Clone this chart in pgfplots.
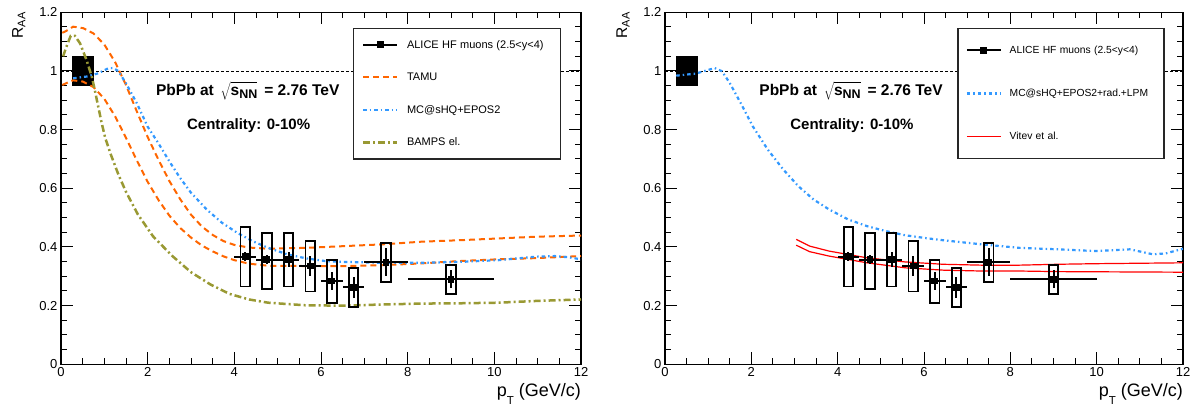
\documentclass[border=0pt]{standalone}
\usepackage{pgfplots}
\pgfplotsset{compat=1.18}
\usepackage{pgfplotstable}
\usepackage{fontspec}
\setmainfont{Liberation Sans}
\definecolor{tamu}{RGB}{255,102,0}
\definecolor{mcblue}{RGB}{51,153,255}
\definecolor{bamps}{RGB}{153,153,51}
\definecolor{vitev}{RGB}{255,0,0}

% ALICE HF muons: pT, RAA, bin half-width, stat error
\pgfplotstableread{
x y ex ey
4.25 0.367 0.25 0.015
4.75 0.356 0.25 0.015
5.25 0.357 0.25 0.025
5.75 0.335 0.25 0.035
6.25 0.284 0.25 0.030
6.75 0.262 0.25 0.035
7.5 0.348 0.5 0.047
9.0 0.290 1.0 0.030
}\alicedata

% systematic boxes (outlines), nan separates boxes
\pgfplotstableread{
x y
4.14 0.265
4.36 0.265
4.36 0.467
4.14 0.467
4.14 0.265
nan nan
4.64 0.257
4.86 0.257
4.86 0.447
4.64 0.447
4.64 0.257
nan nan
5.14 0.265
5.36 0.265
5.36 0.447
5.14 0.447
5.14 0.265
nan nan
5.64 0.248
5.86 0.248
5.86 0.420
5.64 0.420
5.64 0.248
nan nan
6.14 0.210
6.36 0.210
6.36 0.356
6.14 0.356
6.14 0.210
nan nan
6.64 0.194
6.86 0.194
6.86 0.329
6.64 0.329
6.64 0.194
nan nan
7.39 0.280
7.61 0.280
7.61 0.413
7.39 0.413
7.39 0.280
nan nan
8.89 0.240
9.11 0.240
9.11 0.339
8.89 0.339
8.89 0.240
}\systdata

% normalisation box
\pgfplotstableread{
x y
0.25 0.95
0.77 0.95
0.77 1.05
0.25 1.05
}\normbox

\pgfplotstableread{
x y
0.03 1.130
0.115 1.136
0.28 1.151
0.51 1.146
0.75 1.128
1.00 1.090
1.25 1.030
1.50 0.952
1.75 0.862
2.00 0.775
2.25 0.697
2.50 0.625
2.75 0.563
3.00 0.510
3.25 0.470
3.50 0.441
3.75 0.420
4.00 0.407
4.34 0.398
4.78 0.394
5.66 0.397
6.55 0.403
7.43 0.409
8.32 0.418
9.20 0.423
10.09 0.429
10.97 0.435
12.0 0.439
}\tamuup

\pgfplotstableread{
x y
0.03 0.952
0.115 0.958
0.28 0.968
0.50 0.964
0.75 0.945
1.00 0.905
1.25 0.845
1.50 0.772
1.75 0.695
2.00 0.622
2.25 0.560
2.50 0.507
2.75 0.465
3.00 0.432
3.25 0.405
3.50 0.385
3.75 0.368
4.00 0.355
4.34 0.343
4.78 0.336
5.66 0.335
6.55 0.335
7.43 0.338
8.32 0.344
9.20 0.352
10.09 0.358
10.97 0.362
12.0 0.369
}\tamulow

\pgfplotstableread{
x y
0.28 0.975
0.59 0.981
0.86 0.992
1.09 1.009
1.20 1.010
1.32 1.000
1.50 0.958
1.75 0.890
2.00 0.810
2.25 0.753
2.50 0.692
2.75 0.635
3.00 0.585
3.36 0.528
3.71 0.483
4.07 0.448
4.42 0.420
4.78 0.397
5.22 0.375
5.66 0.361
6.10 0.352
6.55 0.349
7.43 0.346
8.32 0.346
9.20 0.349
10.09 0.355
10.97 0.367
11.40 0.369
11.70 0.365
12.0 0.358
}\mcleft

\pgfplotstableread{
x y
0.05 1.050
0.11 1.077
0.225 1.120
0.32 1.120
0.44 1.094
0.59 1.037
0.71 0.981
0.78 0.935
0.86 0.878
0.94 0.822
1.02 0.772
1.15 0.715
1.33 0.645
1.50 0.588
1.77 0.512
2.12 0.437
2.57 0.369
3.00 0.314
3.45 0.272
3.89 0.240
4.34 0.221
4.78 0.210
5.66 0.201
6.55 0.200
7.43 0.204
8.32 0.207
9.20 0.208
10.09 0.210
10.97 0.216
12.0 0.221
}\bampsdata

\pgfplotstableread{
x y
0.26 0.984
0.71 0.991
1.15 1.010
1.32 0.999
1.50 0.959
1.77 0.886
2.03 0.812
2.38 0.732
2.74 0.664
3.09 0.607
3.44 0.562
3.80 0.528
4.24 0.494
4.68 0.471
5.12 0.454
5.56 0.440
6.00 0.431
6.44 0.423
7.33 0.409
8.21 0.397
9.09 0.392
9.97 0.386
10.77 0.392
11.30 0.375
11.60 0.378
12.0 0.394
}\mcright

\pgfplotstableread{
x y
3.04 0.426
3.35 0.403
3.80 0.386
4.68 0.363
5.56 0.349
6.44 0.341
7.33 0.338
8.21 0.338
9.09 0.341
9.97 0.343
12.0 0.346
}\vitevup

\pgfplotstableread{
x y
3.04 0.406
3.35 0.384
3.80 0.369
4.68 0.346
5.56 0.329
6.44 0.321
7.33 0.318
8.21 0.318
9.09 0.316
12.0 0.314
}\vitevlow

\newcommand{\legA}{\fontsize{11}{11}\selectfont\hspace*{8.6pt}}
\newcommand{\legB}{\fontsize{10.3}{10.3}\selectfont\hspace*{7.8pt}}

\pgfplotsset{
  rootaxis/.style={
    scale only axis, height=352pt,
    xmin=0, xmax=12, ymin=0, ymax=1.2,
    xtick={0,2,4,6,8,10,12},
    ytick={0,0.2,0.4,0.6,0.8,1,1.2},
    minor x tick num=3, minor y tick num=3,
    tick align=inside, tick pos=both,
    major tick length=12pt, minor tick length=6pt,
    axis line style={line width=1.2pt},
    every tick/.style={black, line width=1pt},
    tick label style={font=\fontsize{13}{13}\selectfont},
    /pgf/number format/assume math mode=true,
    xlabel={p\raisebox{-8pt}{\fontsize{11.5}{11.5}\selectfont T} (GeV/c)},
    ylabel={R\raisebox{-2.5pt}{\fontsize{11}{11}\selectfont AA}},
    xlabel style={at={([yshift=-32pt]rel axis cs:1,0)}, anchor=base east,
      font=\fontsize{18}{18}\selectfont, inner sep=0pt},
    ylabel style={at={([xshift=-38pt]rel axis cs:0,1)}, anchor=base east,
      font=\fontsize{15.5}{15.5}\selectfont, inner sep=0pt},
    legend cell align=left,
    legend image code/.code={
      \draw[mark repeat=2,mark phase=2,##1] plot coordinates {(0pt,0pt)(17pt,0pt)(34pt,0pt)};
    },
  },
  alicestyle/.style={black, line width=1.6pt, mark=square*, mark size=2.6pt},
  tamustyle/.style={tamu, line width=2pt, dash pattern=on 6pt off 4pt},
  mcstyle/.style={mcblue, line width=2.2pt, dash pattern=on 3.5pt off 3pt on 1.5pt off 3pt},
  bampsstyle/.style={bamps, line width=2.5pt, dash pattern=on 7pt off 3pt on 2pt off 3pt},
  vitevstyle/.style={vitev, line width=1.2pt},
}

\newcommand{\datalayer}{%
  \addplot[black, line width=0.6pt, dash pattern=on 3pt off 2pt, forget plot] coordinates {(0,1) (12,1)};
  \addplot[fill=black, draw=none, forget plot] table {\normbox} -- cycle;
}
\newcommand{\alicelayer}{%
  \addplot[black, line width=1.8pt, line cap=rect, unbounded coords=jump, forget plot] table {\systdata};
  \addplot[alicestyle, only marks, forget plot,
    error bars/.cd, x dir=both, x explicit, y dir=both, y explicit, error mark=none,
    error bar style={line width=2pt}]
    table[x=x, y=y, x error=ex, y error=ey] {\alicedata};
}
\newcommand{\sqrtsnn}{\node[font=\fontsize{15.5}{15.5}\selectfont\bfseries] at (axis cs:4.31,0.931)
  {PbPb at\, $\sqrt{\mbox{\vphantom{T}s\raisebox{-3.5pt}{\fontsize{12.5}{12.5}\selectfont NN}}}$\, = 2.76 TeV};
  \node[font=\fontsize{15}{15}\selectfont\bfseries] at (axis cs:4.33,0.814) {Centrality: 0-10\%};}

\begin{document}
\begin{tikzpicture}
\useasboundingbox (0pt,0pt) rectangle (1198pt,405pt);

\begin{axis}[rootaxis, width=520pt, at={(61pt,40.7pt)}, anchor=south west,
  legend style={at={(axis cs:6.74,1.147)}, anchor=north west, draw=black!85, line width=1.3pt,
    fill=white, inner xsep=8.2pt, inner ysep=0pt,
    nodes={inner sep=0pt, minimum height=32.6pt, text width=153.6pt}}]
  \addlegendimage{alicestyle}
  \addlegendentry{\legA ALICE HF muons (2.5<y<4)}
  \addlegendimage{tamustyle}
  \addlegendentry{\legA TAMU}
  \addlegendimage{mcstyle}
  \addlegendentry{\legA MC@sHQ+EPOS2}
  \addlegendimage{bampsstyle}
  \addlegendentry{\legA BAMPS el.}
  \datalayer
  \addplot[tamustyle, forget plot] table {\tamuup};
  \addplot[tamustyle, forget plot] table {\tamulow};
  \addplot[mcstyle, forget plot] table {\mcleft};
  \addplot[bampsstyle, forget plot] table {\bampsdata};
  \alicelayer
  \sqrtsnn
\end{axis}

\begin{axis}[rootaxis, width=518pt, at={(665pt,40.7pt)}, anchor=south west,
  legend style={at={(axis cs:6.77,1.147)}, anchor=north west, draw=black!85, line width=1.3pt,
    fill=white, inner xsep=7.8pt, inner ysep=0pt,
    nodes={inner sep=0pt, minimum height=43.3pt, text width=154.4pt}}]
  \addlegendimage{alicestyle}
  \addlegendentry{\legB ALICE HF muons (2.5<y<4)}
  \addlegendimage{mcstyle}
  \addlegendentry{\legB MC@sHQ+EPOS2+rad.+LPM}
  \addlegendimage{vitevstyle}
  \addlegendentry{\legB Vitev et al.}
  \datalayer
  \addplot[mcstyle, forget plot] table {\mcright};
  \addplot[vitevstyle, forget plot] table {\vitevup};
  \addplot[vitevstyle, forget plot] table {\vitevlow};
  \alicelayer
  \sqrtsnn
\end{axis}
\end{tikzpicture}
\end{document}
